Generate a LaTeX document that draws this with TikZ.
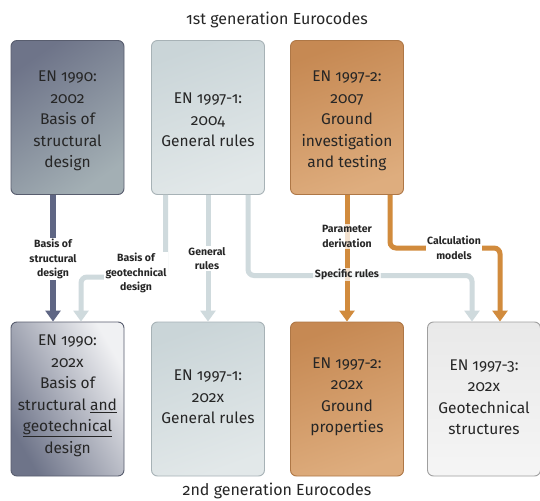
\documentclass[tikz,border=0pt]{standalone}
\usepackage{fontspec}
\setmainfont{Fira Sans}[Numbers=OldStyle]
\usetikzlibrary{arrows.meta}
\definecolor{slateA}{HTML}{6E7489}
\definecolor{slateB}{HTML}{A3AFB4}
\definecolor{slateline}{HTML}{5F6684}
\definecolor{lightA}{HTML}{CAD5D8}
\definecolor{lightB}{HTML}{E2E8E9}
\definecolor{lightborder}{HTML}{A7B2B6}
\definecolor{lightline}{HTML}{CFDADD}
\definecolor{orA}{HTML}{C68953}
\definecolor{orB}{HTML}{DEAD7E}
\definecolor{orborder}{HTML}{AE7746}
\definecolor{orline}{HTML}{D18B3D}
\definecolor{greyA}{HTML}{E9E9E9}
\definecolor{greyB}{HTML}{F5F5F5}
\definecolor{txt}{HTML}{262626}
\tikzset{
  box/.style={rounded corners=6pt, minimum width=113pt, minimum height=154pt, line width=0.9pt, inner sep=0pt},
  boxtext/.style={align=center, text=txt, font=\fontsize{15.5}{21.5}\selectfont},
  conn/.style={line width=5pt, rounded corners=6pt, -{Triangle[width=15pt,length=11pt]}},
  lbl/.style={align=center, text=txt, font=\fontseries{sb}\selectfont\fontsize{10.5}{14.5}\selectfont, fill=white, inner sep=1.5pt},
  title/.style={text=txt, font=\fontsize{16}{19}\selectfont}
}
\begin{document}
\begin{tikzpicture}[x=1pt,y=-1pt]
\useasboundingbox[fill=white] (0,0) rectangle (540,500);

% titles
\node[title] (h1) at (277,20) {1st generation Eurocodes};
\node[title] (h2) at (277,491) {2nd generation Eurocodes};

% top boxes
\node[box, draw=slateA!80!black, top color=slateA, bottom color=slateB, shading angle=35] (t1) at (67.5,117.5) {};
\node[box, draw=lightborder, top color=lightA, bottom color=lightB, shading angle=20] (t2) at (208,117.5) {};
\node[box, draw=orborder, top color=orA, bottom color=orB, shading angle=20] (t3) at (347,117.5) {};

% bottom boxes
\node[box, draw=slateA!80!black, left color=slateA, right color=white!90!slateA, shading angle=120] (b1) at (67.5,399) {};
\node[box, draw=lightborder, top color=lightA, bottom color=lightB, shading angle=20] (b2) at (208,399) {};
\node[box, draw=orborder, top color=orA, bottom color=orB, shading angle=20] (b3) at (347,399) {};
\node[box, draw=gray!75, top color=greyA, bottom color=greyB] (b4) at (484,399) {};

% box texts
\node[boxtext] (t1x) at (67.5,121) {EN 1990:\\2002\\Basis of\\structural\\design};
\node[boxtext] (t2x) at (208,120) {EN 1997-1:\\2004\\General rules};
\node[boxtext] (t3x) at (347,121) {EN 1997-2:\\2007\\Ground\\investigation\\and testing};
\node[boxtext] (b1x) at (67.5,396) {EN 1990:\\202x\\Basis of\\structural \underline{and}\\\underline{geotechnical}\\design};
\node[boxtext] (b2x) at (208,397) {EN 1997-1:\\202x\\General rules};
\node[boxtext] (b3x) at (347,397) {EN 1997-2:\\202x\\Ground\\properties};
\node[boxtext] (b4x) at (484,397) {EN 1997-3:\\202x\\Geotechnical\\structures};

% corner coordinates
\coordinate (c1) at (81,277);
\coordinate (c2) at (472,275.5);
\coordinate (c3) at (500,248);

% connectors
\draw[conn, draw=slateline, line width=5.5pt, slateline] ([xshift=-14.5pt]t1.south) -- ([xshift=-14.5pt]b1.north);
\draw[conn, draw=lightline, lightline] ([xshift=-42.5pt]t2.south) |- (c1) -- ([xshift=13.5pt]b1.north);
\draw[conn, draw=lightline, lightline] (t2.south) -- (b2.north);
\draw[conn, draw=lightline, lightline] ([xshift=40pt]t2.south) |- (c2) -- ([xshift=-12pt]b4.north);
\draw[conn, draw=orline, orline] (t3.south) -- (b3.north);
\draw[conn, draw=orline, orline] ([xshift=43pt]t3.south) |- (c3) -- ([xshift=16pt]b4.north);

% labels
\node[lbl] (l1) at (53,259) {Basis of\\structural\\design};
\node[lbl] (l2) at (136,273) {Basis of\\geotechnical\\design};
\node[lbl] (l3) at (207,258.5) {General\\rules};
\node[lbl, fill opacity=0.75, text opacity=1] (l4) at (347,236.5) {Parameter\\derivation};
\node[lbl, fill opacity=0.75, text opacity=1] (l5) at (347,274.5) {Specific rules};
\node[lbl] (l6) at (454,248) {Calculation\\models};
\end{tikzpicture}
\end{document}
